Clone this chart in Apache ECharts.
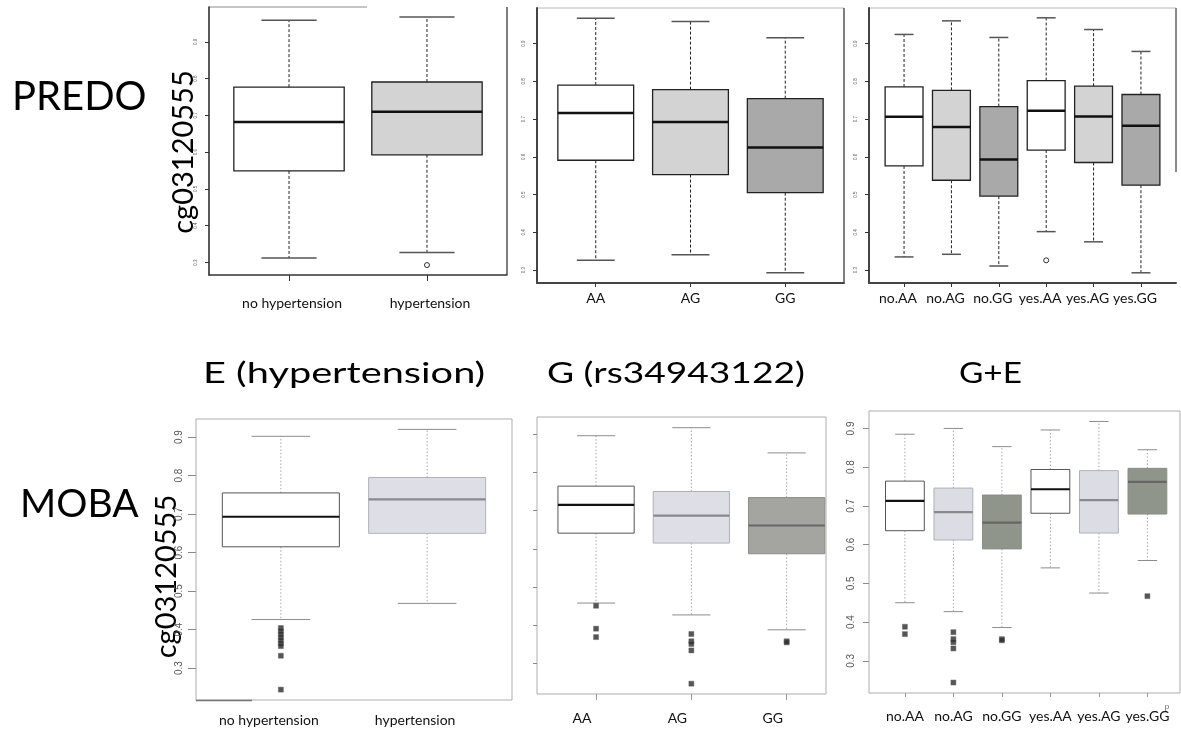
<!DOCTYPE html>
<html>
<head>
<meta charset="utf-8">
<script src="https://cdn.jsdelivr.net/npm/echarts@6/dist/echarts.min.js"></script>
<style>
  html, body { margin: 0; padding: 0; background: #ffffff; }
  #chart { width: 1181px; height: 735px; }
</style>
</head>
<body>
<div id="chart"></div>
<script>
// Group labels for the three model views
const groupsE = ['no hypertension', 'hypertension'];
const groupsG = ['AA', 'AG', 'GG'];
const groupsGE = ['no.AA', 'no.AG', 'no.GG', 'yes.AA', 'yes.AG', 'yes.GG'];
const yTicks = [0.3, 0.4, 0.5, 0.6, 0.7, 0.8, 0.9];

// cg03120555 methylation, per group: [lower whisker, Q1, median, Q3, upper whisker]
const predoE = [[0.312, 0.549, 0.682, 0.777, 0.959], [0.327, 0.593, 0.710, 0.791, 0.968]];
const predoEOut = [[2, 0.293]];
const predoG = [[0.326, 0.591, 0.716, 0.790, 0.967], [0.341, 0.553, 0.692, 0.778, 0.958], [0.293, 0.505, 0.625, 0.754, 0.915]];
const predoGOut = [];
const predoGE = [
  [0.335, 0.576, 0.706, 0.785, 0.924], [0.342, 0.538, 0.679, 0.776, 0.960], [0.311, 0.496, 0.593, 0.733, 0.916],
  [0.402, 0.618, 0.722, 0.802, 0.968], [0.375, 0.585, 0.707, 0.787, 0.937], [0.293, 0.525, 0.682, 0.765, 0.879]
];
const predoGEOut = [[4, 0.326]];

const mobaE = [[0.426, 0.615, 0.693, 0.755, 0.902], [0.468, 0.650, 0.738, 0.795, 0.920]];
const mobaEOut = [[1, 0.404], [1, 0.396], [1, 0.388], [1, 0.380], [1, 0.372], [1, 0.364], [1, 0.357], [1, 0.332], [1, 0.244]];
const mobaG = [[0.458, 0.641, 0.715, 0.764, 0.896], [0.427, 0.615, 0.687, 0.750, 0.917], [0.388, 0.587, 0.661, 0.734, 0.851]];
const mobaGOut = [[1, 0.451], [1, 0.391], [1, 0.369], [2, 0.377], [2, 0.358], [2, 0.351], [2, 0.334], [2, 0.247], [3, 0.358], [3, 0.355]];
const mobaGE = [
  [0.450, 0.636, 0.713, 0.764, 0.885], [0.427, 0.612, 0.684, 0.746, 0.900], [0.386, 0.589, 0.657, 0.728, 0.853],
  [0.540, 0.681, 0.743, 0.794, 0.896], [0.475, 0.630, 0.715, 0.791, 0.918], [0.559, 0.679, 0.762, 0.797, 0.845]
];
const mobaGEOut = [[1, 0.388], [1, 0.369], [2, 0.374], [2, 0.356], [2, 0.348], [2, 0.332], [2, 0.244], [3, 0.356], [3, 0.353], [6, 0.467]];

// ---- styling ----
const TEXT_FONT = 'Lato';
const TICK_FONT = 'Liberation Sans';

const topLook = {
  whisker: '#222', whiskerWidth: 1, whiskerDash: [3, 2],
  cap: '#555', capWidth: 1.5, boxLine: 1.3, medianWidth: 2.5
};
const bottomLook = {
  whisker: '#a8a8a8', whiskerWidth: 1, whiskerDash: [1.5, 2],
  cap: '#8c8c8c', capWidth: 1, boxLine: 1, medianWidth: 2.2
};
const topFill = ['#ffffff', '#d3d3d3', '#a9a9a9'];
const topStroke = ['#222222', '#222222', '#222222'];
const topMedian = ['#111111', '#111111', '#111111'];
const botFillG = ['#ffffff', '#dedee6', '#a4a5a0'];
const botFillGE = ['#ffffff', '#dcdce4', '#8f958b'];
const botStroke = ['#555555', '#b0b0b8', '#8a8c86'];
const botMedian = ['#111111', '#8a8a8a', '#666666'];
const rep2 = arr => arr.concat(arr);

function boxRenderer(look, fill, stroke, median) {
  return function (params, api) {
    const k = params.dataIndex;
    const x = api.value(0);
    const lo = api.coord([x, api.value(1)]);
    const q1 = api.coord([x, api.value(2)]);
    const md = api.coord([x, api.value(3)]);
    const q3 = api.coord([x, api.value(4)]);
    const hi = api.coord([x, api.value(5)]);
    const left = api.coord([x - 0.4, api.value(3)])[0];
    const right = api.coord([x + 0.4, api.value(3)])[0];
    const capL = api.coord([x - 0.2, api.value(3)])[0];
    const capR = api.coord([x + 0.2, api.value(3)])[0];
    const cx = md[0];
    const wStyle = { stroke: look.whisker, lineWidth: look.whiskerWidth, lineDash: look.whiskerDash, fill: null };
    const cStyle = { stroke: look.cap, lineWidth: look.capWidth, fill: null };
    return {
      type: 'group',
      children: [
        { type: 'line', shape: { x1: cx, y1: q1[1], x2: cx, y2: lo[1] }, style: wStyle },
        { type: 'line', shape: { x1: cx, y1: q3[1], x2: cx, y2: hi[1] }, style: wStyle },
        { type: 'line', shape: { x1: capL, y1: lo[1], x2: capR, y2: lo[1] }, style: cStyle },
        { type: 'line', shape: { x1: capL, y1: hi[1], x2: capR, y2: hi[1] }, style: cStyle },
        { type: 'rect', shape: { x: left, y: q3[1], width: right - left, height: q1[1] - q3[1] },
          style: { fill: fill[k % fill.length], stroke: stroke[k % stroke.length], lineWidth: look.boxLine } },
        { type: 'line', shape: { x1: left, y1: md[1], x2: right, y2: md[1] },
          style: { stroke: median[k % median.length], lineWidth: look.medianWidth, fill: null } }
      ]
    };
  };
}

// xShift nudges the category captions sideways (negative = left)
const panels = [
  { // PREDO, E
    grid: { left: 209, top: 7, width: 298, height: 268 }, xr: [0.42, 2.58], yr: [0.266, 0.995],
    cats: groupsE, stats: predoE, out: predoEOut, look: topLook, fill: topFill, stroke: topStroke, median: topMedian,
    frame: false, xLine: { color: '#333', width: 1.5 }, yLine: { color: '#222', width: 1.5 },
    xTick: 6, xTickColor: '#333', xMargin: 21, xShift: 3, yTick: 4, yTickColor: '#333', yLabel: { size: 4.5, margin: 11, color: '#555' },
    outStyle: 'circle'
  },
  { // PREDO, G
    grid: { left: 537, top: 8, width: 307, height: 275 }, xr: [0.38, 3.62], yr: [0.266, 0.994],
    cats: groupsG, stats: predoG, out: predoGOut, look: topLook, fill: topFill, stroke: topStroke, median: topMedian,
    frame: false, xLine: { color: '#444', width: 2 }, yLine: { color: '#444', width: 2 },
    xTick: 4, xTickColor: '#333', xMargin: 8, xShift: 0, yTick: 4, yTickColor: '#333', yLabel: { size: 4.5, margin: 11, color: '#555' },
    outStyle: 'circle'
  },
  { // PREDO, G+E
    grid: { left: 869, top: 8, width: 307, height: 275 }, xr: [0.26, 6.74], yr: [0.266, 0.994],
    cats: groupsGE, stats: predoGE, out: predoGEOut, look: topLook, fill: rep2(topFill), stroke: rep2(topStroke), median: rep2(topMedian),
    frame: false, xLine: { color: '#444', width: 2 }, yLine: { color: '#444', width: 2 },
    xTick: 4, xTickColor: '#333', xMargin: 8, xShift: -6, yTick: 4, yTickColor: '#333', yLabel: { size: 4.5, margin: 11, color: '#555' },
    outStyle: 'circle'
  },
  { // MOBA, E
    grid: { left: 196, top: 419, width: 316, height: 281 }, xr: [0.42, 2.58], yr: [0.217, 0.947],
    cats: groupsE, stats: mobaE, out: mobaEOut, look: bottomLook, fill: [botFillG[0], botFillG[1]], stroke: botStroke, median: botMedian,
    frame: true, xLine: null, yLine: null,
    xTick: 0, xTickColor: '#999', xMargin: 13, xShift: -12, yTick: 8, yTickColor: '#8a8a8a', yLabel: { size: 10, margin: 12, color: '#555' },
    outStyle: 'rect'
  },
  { // MOBA, G
    grid: { left: 537, top: 417, width: 289, height: 277 }, xr: [0.38, 3.413], yr: [0.220, 0.945],
    cats: groupsG, stats: mobaG, out: mobaGOut, look: bottomLook, fill: botFillG, stroke: botStroke, median: botMedian,
    frame: true, xLine: null, yLine: null,
    xTick: 6, xTickColor: '#999', xMargin: 17, xShift: -14, yTick: 4, yTickColor: '#8a8a8a', yLabel: null,
    outStyle: 'rect'
  },
  { // MOBA, G+E
    grid: { left: 869, top: 411, width: 311, height: 282 }, xr: [0.26, 6.672], yr: [0.217, 0.945],
    cats: groupsGE, stats: mobaGE, out: mobaGEOut, look: bottomLook, fill: rep2(botFillGE), stroke: rep2(botStroke), median: rep2(botMedian),
    frame: true, xLine: null, yLine: null,
    xTick: 4, xTickColor: '#999', xMargin: 16, xShift: 0, yTick: 6, yTickColor: '#8a8a8a', yLabel: { size: 10, margin: 13, color: '#555' },
    outStyle: 'rect'
  }
];

const grids = [], xAxes = [], yAxes = [], series = [];

panels.forEach(function (p, i) {
  const positions = p.cats.map((_, k) => k + 1);
  const pad = p.xShift < 0 ? [0, -2 * p.xShift, 0, 0] : [0, 0, 0, 2 * p.xShift];
  grids.push(Object.assign({
    show: p.frame, borderColor: '#adadad', borderWidth: 1, backgroundColor: 'transparent',
    containLabel: false, outerBoundsMode: 'none'
  }, p.grid));
  xAxes.push({
    type: 'value', gridIndex: i, min: p.xr[0], max: p.xr[1],
    axisLine: { show: !!p.xLine, lineStyle: p.xLine || {} },
    axisTick: { show: p.xTick > 0, customValues: positions, length: p.xTick, lineStyle: { color: p.xTickColor, width: 1 } },
    axisLabel: {
      customValues: positions, margin: p.xMargin, fontSize: 14, fontFamily: TEXT_FONT, color: '#111',
      padding: pad,
      formatter: v => p.cats[Math.round(v) - 1]
    },
    splitLine: { show: false }
  });
  yAxes.push({
    type: 'value', gridIndex: i, min: p.yr[0], max: p.yr[1],
    axisLine: { show: !!p.yLine, lineStyle: p.yLine || {} },
    axisTick: { show: true, customValues: yTicks, length: p.yTick, lineStyle: { color: p.yTickColor, width: 1 } },
    axisLabel: p.yLabel ? {
      show: true, customValues: yTicks, rotate: 90, fontSize: p.yLabel.size, margin: p.yLabel.margin,
      color: p.yLabel.color, fontFamily: TICK_FONT, formatter: v => v.toFixed(1)
    } : { show: false },
    splitLine: { show: false }
  });
  series.push({
    type: 'custom', xAxisIndex: i, yAxisIndex: i, silent: true, z: 2,
    renderItem: boxRenderer(p.look, p.fill, p.stroke, p.median),
    data: p.stats.map((s, k) => [k + 1].concat(s)),
    encode: { x: 0, y: [1, 2, 3, 4, 5] }
  });
  if (p.out.length) {
    series.push({
      type: 'scatter', xAxisIndex: i, yAxisIndex: i, silent: true, z: 3,
      data: p.out,
      symbol: p.outStyle === 'circle' ? 'circle' : 'rect',
      symbolSize: 5,
      itemStyle: p.outStyle === 'circle'
        ? { color: '#ffffff', borderColor: '#000000', borderWidth: 1 }
        : { color: '#2b2b2b', borderColor: '#666666', borderWidth: 0.6 }
    });
  }
});

// free-standing frame strokes around the upper panels
const frameLines = [
  { s: [209, 7, 367, 7], c: '#8a8a8a', w: 1 },
  { s: [507, 7, 507, 275], c: '#555555', w: 1.5 },
  { s: [537, 8, 844, 8], c: '#b8b8b8', w: 1 },
  { s: [844, 8, 844, 283], c: '#555555', w: 1.5 },
  { s: [869, 8, 1176, 8], c: '#b8b8b8', w: 1 },
  { s: [1176, 8, 1176, 172], c: '#8a8a8a', w: 2 },
  { s: [196, 700.5, 252, 700.5], c: '#777777', w: 1.5 }
];

function label(text, x, y, size, extra) {
  return Object.assign({
    type: 'text', x: x, y: y, silent: true,
    style: { text: text, fontSize: size, fontFamily: TEXT_FONT, fill: '#000', align: 'left', verticalAlign: 'middle' }
  }, extra || {});
}

const graphics = frameLines.map(f => ({
  type: 'line', silent: true, shape: { x1: f.s[0], y1: f.s[1], x2: f.s[2], y2: f.s[3] },
  style: { stroke: f.c, lineWidth: f.w }
})).concat([
  label('PREDO', 12, 97.5, 40),
  label('MOBA', 20, 504, 39),
  { type: 'text', x: 183.5, y: 152, rotation: Math.PI / 2, silent: true,
    style: { text: 'cg03120555', fontSize: 29, fontFamily: TEXT_FONT, fill: '#000', align: 'center', verticalAlign: 'middle' } },
  { type: 'text', x: 167, y: 576.5, rotation: Math.PI / 2, silent: true,
    style: { text: 'cg03120555', fontSize: 29, fontFamily: TEXT_FONT, fill: '#000', align: 'center', verticalAlign: 'middle' } },
  label('E (hypertension)', 203, 373.5, 29, { scaleX: 1.37 }),
  label('G (rs34943122)', 547, 373.5, 29, { scaleX: 1.28 }),
  label('G+E', 959, 373.5, 29, { scaleX: 1.15 }),
  { type: 'text', x: 1167, y: 707, silent: true,
    style: { text: 'p', fontSize: 8, fontFamily: TICK_FONT, fill: '#666', align: 'center', verticalAlign: 'middle' } }
]);

const chart = echarts.init(document.getElementById('chart'), null, { renderer: 'canvas' });
chart.setOption({
  backgroundColor: '#ffffff',
  animation: false,
  grid: grids,
  xAxis: xAxes,
  yAxis: yAxes,
  series: series,
  graphic: graphics
});
</script>
</body>
</html>
